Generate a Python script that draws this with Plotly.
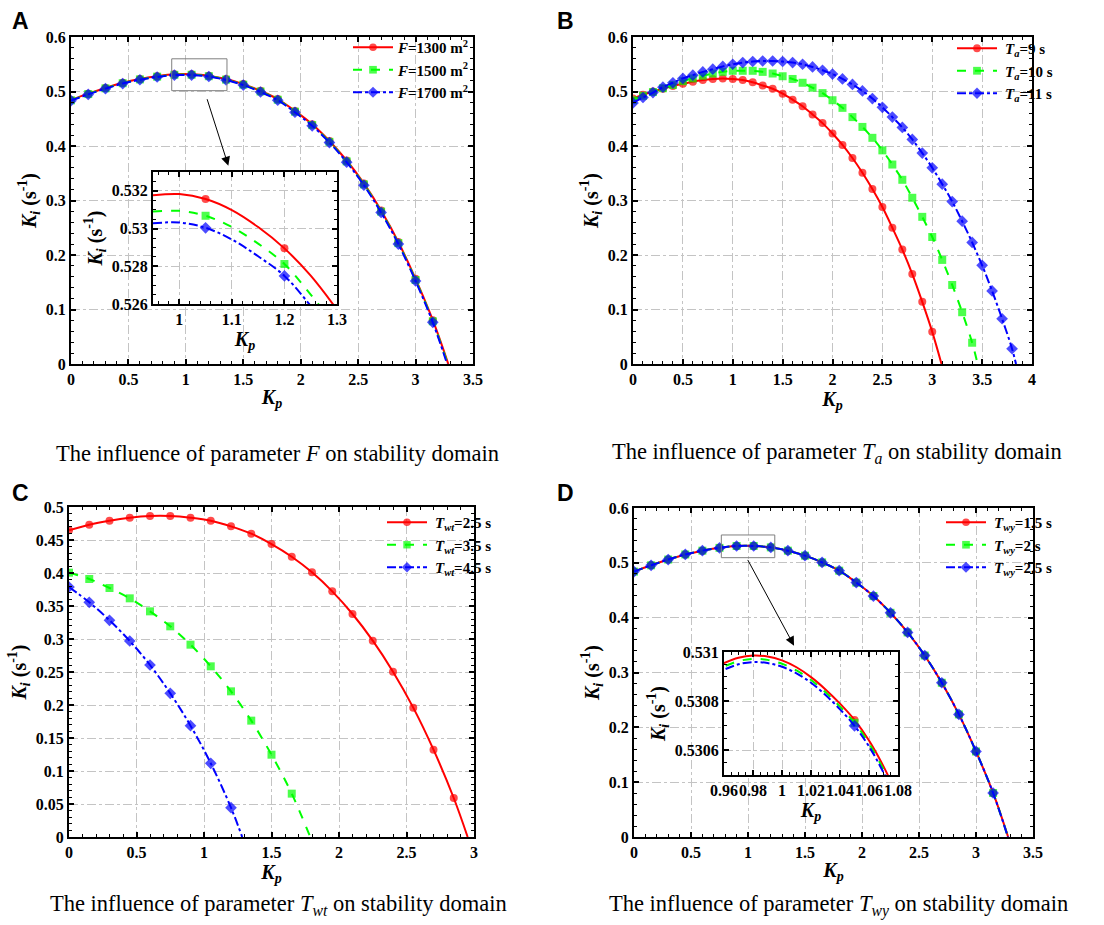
import plotly.graph_objects as go

# ---------------- data ----------------
# Panel A: influence of F
kp_a = [0, 0.15, 0.3, 0.45, 0.6, 0.75, 0.9, 1.05, 1.2, 1.35, 1.5, 1.65, 1.8, 1.95, 2.1, 2.25, 2.4, 2.55, 2.7, 2.85, 3.0, 3.15]
ki_a_1300 = [0.4845, 0.4960, 0.5065, 0.5160, 0.5230, 0.5280, 0.5315, 0.5316, 0.5290, 0.5228, 0.5136, 0.5012, 0.4862, 0.4644, 0.4398, 0.4092, 0.3734, 0.3313, 0.2815, 0.2238, 0.1562, 0.0805]
ki_a_1500 = [0.4838, 0.4953, 0.5058, 0.5152, 0.5222, 0.5272, 0.5306, 0.5307, 0.5281, 0.5218, 0.5125, 0.5000, 0.4849, 0.4630, 0.4383, 0.4076, 0.3717, 0.3295, 0.2796, 0.2218, 0.1541, 0.0783]
ki_a_1700 = [0.4832, 0.4947, 0.5052, 0.5146, 0.5216, 0.5266, 0.5300, 0.5301, 0.5275, 0.5211, 0.5117, 0.4991, 0.4839, 0.4619, 0.4371, 0.4063, 0.3703, 0.3280, 0.2780, 0.2201, 0.1523, 0.0764]
kp_a_end = [3.285, 3.28, 3.275]

# Panel A inset
kp_ai = [0.95, 1.0, 1.05, 1.1, 1.15, 1.2, 1.25, 1.3]
ki_ai_1300 = [0.53176, 0.53183, 0.53157, 0.53098, 0.53008, 0.52895, 0.52750, 0.52570]
ki_ai_1500 = [0.53090, 0.53094, 0.53068, 0.53008, 0.52920, 0.52812, 0.52650, 0.52470]
ki_ai_1700 = [0.53028, 0.53032, 0.53004, 0.52942, 0.52853, 0.52749, 0.52590, 0.52410]
marked_ai = [1.05, 1.2]

# Panel B: influence of Ta
kp_b9 = [0, 0.1, 0.2, 0.3, 0.4, 0.5, 0.6, 0.7, 0.8, 0.9, 1.0, 1.1, 1.2, 1.3, 1.4, 1.5, 1.6, 1.7, 1.8, 1.9, 2.0, 2.1, 2.2, 2.3, 2.4, 2.5, 2.6, 2.7, 2.8, 2.9, 3.0]
ki_b9 = [0.487, 0.494, 0.500, 0.505, 0.510, 0.514, 0.518, 0.521, 0.523, 0.524, 0.523, 0.521, 0.517, 0.511, 0.505, 0.496, 0.485, 0.473, 0.458, 0.442, 0.423, 0.402, 0.378, 0.351, 0.321, 0.288, 0.250, 0.210, 0.165, 0.114, 0.059]
kp_b10 = [0, 0.1, 0.2, 0.3, 0.4, 0.5, 0.6, 0.7, 0.8, 0.9, 1.0, 1.1, 1.2, 1.3, 1.4, 1.5, 1.6, 1.7, 1.8, 1.9, 2.0, 2.1, 2.2, 2.3, 2.4, 2.5, 2.6, 2.7, 2.8, 2.9, 3.0, 3.1, 3.2, 3.3, 3.4]
ki_b10 = [0.484, 0.492, 0.499, 0.506, 0.512, 0.519, 0.524, 0.529, 0.533, 0.536, 0.538, 0.538, 0.538, 0.536, 0.533, 0.528, 0.523, 0.516, 0.507, 0.497, 0.484, 0.470, 0.453, 0.435, 0.415, 0.392, 0.366, 0.338, 0.305, 0.270, 0.233, 0.191, 0.145, 0.095, 0.039]
kp_b11 = [0, 0.1, 0.2, 0.3, 0.4, 0.5, 0.6, 0.7, 0.8, 0.9, 1.0, 1.1, 1.2, 1.3, 1.4, 1.5, 1.6, 1.7, 1.8, 1.9, 2.0, 2.1, 2.2, 2.3, 2.4, 2.5, 2.6, 2.7, 2.8, 2.9, 3.0, 3.1, 3.2, 3.3, 3.4, 3.5, 3.6, 3.7, 3.8]
ki_b11 = [0.479, 0.489, 0.498, 0.508, 0.516, 0.524, 0.530, 0.536, 0.541, 0.546, 0.550, 0.553, 0.555, 0.556, 0.556, 0.555, 0.553, 0.550, 0.545, 0.539, 0.532, 0.523, 0.513, 0.501, 0.487, 0.471, 0.453, 0.434, 0.412, 0.387, 0.360, 0.330, 0.298, 0.262, 0.223, 0.181, 0.134, 0.083, 0.028]
kp_b_end = [3.093, 3.455, 3.84]

# Panel C: influence of Twt
kp_c25 = [0, 0.15, 0.3, 0.45, 0.6, 0.75, 0.9, 1.05, 1.2, 1.35, 1.5, 1.65, 1.8, 1.95, 2.1, 2.25, 2.4, 2.55, 2.7, 2.85]
ki_c25 = [0.4646, 0.4732, 0.4793, 0.4838, 0.4864, 0.4864, 0.4838, 0.4793, 0.4707, 0.4596, 0.4439, 0.4247, 0.4010, 0.3722, 0.3379, 0.2975, 0.2505, 0.1960, 0.1323, 0.0591]
kp_c35 = [0, 0.15, 0.3, 0.45, 0.6, 0.75, 0.9, 1.05, 1.2, 1.35, 1.5, 1.65]
ki_c35 = [0.4005, 0.3909, 0.3773, 0.3616, 0.3419, 0.3192, 0.2914, 0.2586, 0.2207, 0.1763, 0.1247, 0.0657]
kp_c45 = [0, 0.15, 0.3, 0.45, 0.6, 0.75, 0.9, 1.05, 1.2]
ki_c45 = [0.3788, 0.3556, 0.3283, 0.2970, 0.2606, 0.2177, 0.1687, 0.1116, 0.0444]
kp_c_end = [2.953, 1.787, 1.283]

# Panel D: influence of Twy
kp_d = [0, 0.15, 0.3, 0.45, 0.6, 0.75, 0.9, 1.05, 1.2, 1.35, 1.5, 1.65, 1.8, 1.95, 2.1, 2.25, 2.4, 2.55, 2.7, 2.85, 3.0, 3.15]
ki_d_15 = [0.48400, 0.49550, 0.50600, 0.51530, 0.52220, 0.52730, 0.53070, 0.53072, 0.52820, 0.52220, 0.51310, 0.50080, 0.48570, 0.46400, 0.43940, 0.40890, 0.37310, 0.33100, 0.28130, 0.22360, 0.15600, 0.08030]
ki_d_2 = [0.48399, 0.49549, 0.50599, 0.51529, 0.52219, 0.52729, 0.53069, 0.53071, 0.52819, 0.52219, 0.51309, 0.50079, 0.48569, 0.46399, 0.43939, 0.40889, 0.37309, 0.33099, 0.28129, 0.22359, 0.15599, 0.08029]
ki_d_25 = [0.48397, 0.49547, 0.50597, 0.51527, 0.52217, 0.52727, 0.53067, 0.53070, 0.52818, 0.52218, 0.51308, 0.50078, 0.48568, 0.46398, 0.43938, 0.40888, 0.37308, 0.33098, 0.28128, 0.22358, 0.15598, 0.08028]
kp_d_end = [3.282, 3.281, 3.28]

# Panel D inset
kp_di = [0.95, 0.96, 0.97, 0.98, 0.99, 1.0, 1.01, 1.02, 1.03, 1.04, 1.05, 1.06, 1.07, 1.08]
ki_di_15 = [0.530925, 0.530955, 0.530977, 0.530986, 0.530982, 0.530966, 0.530938, 0.530898, 0.530848, 0.530790, 0.530724, 0.530640, 0.530535, 0.530410]
ki_di_2 = [0.530912, 0.530941, 0.530963, 0.530972, 0.530968, 0.530952, 0.530925, 0.530886, 0.530836, 0.530778, 0.530712, 0.530628, 0.530522, 0.530398]
ki_di_25 = [0.530898, 0.530928, 0.530950, 0.530959, 0.530955, 0.530940, 0.530913, 0.530875, 0.530825, 0.530767, 0.530700, 0.530616, 0.530510, 0.530386]
marked_di = [1.05]

# ---------------- styling ----------------
W, H = 1104, 925
SERIF = "Times New Roman, Liberation Serif, serif"
RED, GREEN, BLUE = "#ff0000", "#00ff00", "#0000ff"
STY = [
    dict(color=RED, dash="solid", symbol="circle", size=8),
    dict(color=GREEN, dash="dash", symbol="square", size=8),
    dict(color=BLUE, dash="dashdot", symbol="diamond", size=9),
]

def px_x(a, b):
    return [a / W, b / W]

def px_y(top, bottom):
    return [1 - bottom / H, 1 - top / H]

fig = go.Figure()

def add_series(x, y, x_end, sty, name, xa, ya, legend, showlegend=True):
    xs = list(x) + [x_end]
    ys = list(y) + [0]
    sizes = [sty["size"]] * len(x) + [0]
    fig.add_trace(go.Scatter(
        x=xs, y=ys, mode="lines+markers", name=name,
        line=dict(color=sty["color"], dash=sty["dash"], width=2, shape="spline"),
        marker=dict(color=sty["color"], symbol=sty["symbol"], size=sizes, line=dict(width=0)),
        xaxis=xa, yaxis=ya, legend=legend, showlegend=showlegend,
    ))

def add_inset(x, y, marked, sty, xa, ya):
    sizes = [sty["size"] if v in marked else 0 for v in x]
    fig.add_trace(go.Scatter(
        x=x, y=y, mode="lines+markers",
        line=dict(color=sty["color"], dash=sty["dash"], width=2, shape="spline"),
        marker=dict(color=sty["color"], symbol=sty["symbol"], size=sizes, line=dict(width=0)),
        xaxis=xa, yaxis=ya, showlegend=False,
    ))

SP = "\u2009"
# Panel A
names_a = ["<b><i>F</i>=1300 m<sup>2</sup></b>", "<b><i>F</i>=1500 m<sup>2</sup></b>", "<b><i>F</i>=1700 m<sup>2</sup></b>"]
for y, e, s, n in zip([ki_a_1300, ki_a_1500, ki_a_1700], kp_a_end, STY, names_a):
    add_series(kp_a, y, e, s, n, "x", "y", "legend")
for y, s in zip([ki_ai_1300, ki_ai_1500, ki_ai_1700], STY):
    add_inset(kp_ai, y, marked_ai, s, "x5", "y5")

# Panel B
names_b = ["<b>" + SP + "<i>T</i><sub><i>a</i></sub>=9 s</b>", "<b>" + SP + "<i>T</i><sub><i>a</i></sub>=10 s</b>", "<b>" + SP + "<i>T</i><sub><i>a</i></sub>=11 s</b>"]
for x, y, e, s, n in zip([kp_b9, kp_b10, kp_b11], [ki_b9, ki_b10, ki_b11], kp_b_end, STY, names_b):
    add_series(x, y, e, s, n, "x2", "y2", "legend2")

# Panel C
names_c = ["<b>" + SP + "<i>T</i><sub><i>wt</i></sub>=2.5 s</b>", "<b>" + SP + "<i>T</i><sub><i>wt</i></sub>=3.5 s</b>", "<b>" + SP + "<i>T</i><sub><i>wt</i></sub>=4.5 s</b>"]
for x, y, e, s, n in zip([kp_c25, kp_c35, kp_c45], [ki_c25, ki_c35, ki_c45], kp_c_end, STY, names_c):
    add_series(x, y, e, s, n, "x3", "y3", "legend3")

# Panel D
names_d = ["<b>" + SP + "<i>T</i><sub><i>wy</i></sub>=1.5 s</b>", "<b>" + SP + "<i>T</i><sub><i>wy</i></sub>=2 s</b>", "<b>" + SP + "<i>T</i><sub><i>wy</i></sub>=2.5 s</b>"]
for y, e, s, n in zip([ki_d_15, ki_d_2, ki_d_25], kp_d_end, STY, names_d):
    add_series(kp_d, y, e, s, n, "x4", "y4", "legend4")
for y, s in zip([ki_di_15, ki_di_2, ki_di_25], STY):
    add_inset(kp_di, y, marked_di, s, "x6", "y6")

# ---------------- axes ----------------
tickfont = dict(family=SERIF, size=16, color="black", weight="bold")
titlefont = dict(family=SERIF, size=20, color="black", weight="bold")
KP = "<b><i>K</i><sub><i>p</i></sub></b>"
KI = "<b><i>K</i><sub><i>i</i></sub> (s<sup>-1</sup>)</b>"

def ax(domain, rng, dtick, minor, anchor, title, standoff):
    return dict(
        domain=domain, range=rng, dtick=dtick, anchor=anchor,
        showline=True, linecolor="black", linewidth=2, mirror="allticks",
        ticks="inside", ticklen=5, tickwidth=1.5, tickcolor="black", tickangle=0,
        showgrid=True, gridcolor="#c4c4c4", griddash="dashdot", gridwidth=1,
        zeroline=False, tickfont=tickfont, automargin=False,
        minor=dict(ticks="inside", ticklen=3, tickwidth=1, tickcolor="black", dtick=minor, showgrid=False),
        title=dict(text=title, font=titlefont, standoff=standoff),
    )

fig.update_layout(
    xaxis=ax(px_x(71, 473), [0, 3.5], 0.5, 0.1, "y", KP, 3),
    yaxis=ax(px_y(37, 364), [0, 0.6], 0.1, 0.02, "x", KI, 4),
    xaxis2=ax(px_x(633, 1032), [0, 4], 0.5, 0.1, "y2", KP, 3),
    yaxis2=ax(px_y(37, 364), [0, 0.6], 0.1, 0.02, "x2", KI, 4),
    xaxis3=ax(px_x(69, 474), [0, 3], 0.5, 0.1, "y3", KP, 3),
    yaxis3=ax(px_y(507, 837), [0, 0.5], 0.05, 0.01, "x3", KI, 4),
    xaxis4=ax(px_x(634, 1033), [0, 3.5], 0.5, 0.1, "y4", KP, 3),
    yaxis4=ax(px_y(508, 837), [0, 0.6], 0.1, 0.02, "x4", KI, 4),
    xaxis5=ax(px_x(153, 337), [0.95, 1.3], 0.1, 0.02, "y5", KP, 3),
    yaxis5=ax(px_y(172, 304), [0.526, 0.533], 0.002, 0.0005, "x5", KI, 4),
    xaxis6=ax(px_x(724, 898), [0.96, 1.08], 0.02, 0.005, "y6", KP, 3),
    yaxis6=ax(px_y(652, 775), [0.5305, 0.531], 0.0002, 0.00005, "x6", KI, 4),
)

# ---------------- legends ----------------
legfont = dict(family=SERIF, size=15, color="black", weight="bold")
def leg(xp, yp):
    return dict(x=xp / W, y=1 - yp / H, xanchor="left", yanchor="top",
                bgcolor="rgba(0,0,0,0)", borderwidth=0, font=legfont,
                itemwidth=40, tracegroupgap=0)

fig.update_layout(
    legend=leg(348, 31),
    legend2=leg(952, 32),
    legend3=leg(382, 506),
    legend4=leg(941, 506),
)

# ---------------- shapes / annotations ----------------
shapes = [
    # white covers so inset hides main gridlines
    dict(type="rect", xref="x", yref="y", x0=0.714, x1=2.316, y0=0.1101, y1=0.3523,
         fillcolor="white", line=dict(width=0), layer="between"),
    dict(type="rect", xref="x4", yref="y4", x0=0.789, x1=2.315, y0=0.1131, y1=0.3374,
         fillcolor="white", line=dict(width=0), layer="between"),
    # zoom boxes
    dict(type="rect", xref="x", yref="y", x0=0.877, x1=1.358, y0=0.5015, y1=0.560,
         line=dict(color="#7f7f7f", width=1), fillcolor="rgba(0,0,0,0)"),
    dict(type="rect", xref="x4", yref="y4", x0=0.766, x1=1.235, y0=0.5094, y1=0.5508,
         line=dict(color="#7f7f7f", width=1), fillcolor="rgba(0,0,0,0)"),
]

annos = [
    dict(x=1.370, y=0.3638, ax=1.181, ay=0.4886, xref="x", yref="y", axref="x", ayref="y",
         showarrow=True, arrowhead=2, arrowsize=1.8, arrowwidth=1, arrowcolor="black", text=""),
    dict(x=1.404, y=0.349, ax=0.991, ay=0.508, xref="x4", yref="y4", axref="x4", ayref="y4",
         showarrow=True, arrowhead=2, arrowsize=1.8, arrowwidth=1, arrowcolor="black", text=""),
]

letter_font = dict(family="Liberation Sans, Arial, sans-serif", size=23, color="black", weight="bold")
for t, xp, yp in [("A", 20, 21), ("B", 565, 21), ("C", 20, 493), ("D", 565, 493)]:
    annos.append(dict(text="<b>" + t + "</b>", x=xp / W, y=1 - yp / H, xref="paper", yref="paper",
                      xanchor="center", yanchor="middle", showarrow=False, font=letter_font))

cap_font = dict(family=SERIF, size=22.5, color="black")
caps = [
    ("The influence of parameter <i>F</i> on stability domain", 277, 453),
    ("The influence of parameter <i>T</i><sub><i>a</i></sub> on stability domain", 837, 453),
    ("The influence of parameter <i>T</i><sub><i>wt</i></sub> on stability domain", 278, 905),
    ("The influence of parameter <i>T</i><sub><i>wy</i></sub> on stability domain", 838, 905),
]
for t, xp, yp in caps:
    annos.append(dict(text=t, x=xp / W, y=1 - yp / H, xref="paper", yref="paper",
                      xanchor="center", yanchor="middle", showarrow=False, font=cap_font))

fig.update_layout(
    shapes=shapes, annotations=annos,
    width=W, height=H, margin=dict(l=0, r=0, t=0, b=0, autoexpand=False),
    paper_bgcolor="white", plot_bgcolor="white",
)

fig.write_html("out.html", config={"displayModeBar": False},
               post_script="document.body.style.margin='0';document.body.style.padding='0';")
